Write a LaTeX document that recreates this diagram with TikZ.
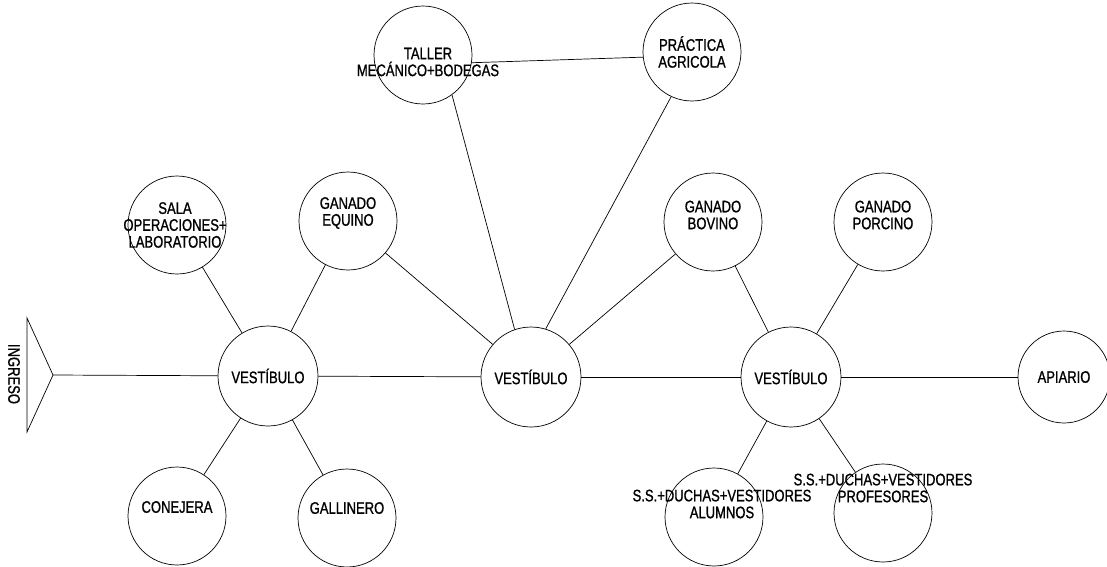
\documentclass[tikz,border=0pt]{standalone}
\usepackage{fontspec}
\newfontfamily\cadfont{Liberation Sans}[FakeStretch=0.78,FakeBold=1]
\usetikzlibrary{positioning}

\begin{document}
\begin{tikzpicture}[x=0.02cm,y=-0.02cm,
  every node/.style={font=\cadfont\fontsize{9.5}{9.6}\selectfont},
  espacio/.style={circle,draw,thin,minimum size=1.96cm,inner sep=0pt},
  vestibulo/.style={espacio,minimum size=2cm},
  rotulo/.style={align=center,inner sep=0pt}]
  \useasboundingbox (0,0) rectangle (1107,566);
  % ingreso
  \coordinate (ingA) at (27,318);
  \coordinate (ingB) at (27,432);
  \coordinate (ingreso) at (53,375);
  \draw[thin] (ingA) -- (ingreso) -- (ingB) -- cycle;
  \node[rotulo,rotate=-90] (tIngreso) at (14,374) {INGRESO};
  % vestibulos
  \node[vestibulo] (vestIzq) at (268,376) {};
  \node[vestibulo] (vestCen) at (531,377) {};
  \node[vestibulo] (vestDer) at (791,377) {};
  \node[espacio,minimum size=1.84cm] (apiario) at (1064,377) {};
  % espacios
  \node[espacio] (sala) at (177,225) {};
  \node[espacio] (equino) at (348,221) {};
  \node[espacio] (taller) at (423,55) {};
  \node[espacio] (practica) at (692,52) {};
  \node[espacio] (bovino) at (713,222) {};
  \node[espacio] (porcino) at (883,222) {};
  \node[espacio] (conejera) at (177,516) {};
  \node[espacio] (gallinero) at (347,518) {};
  \node[espacio] (alumnos) at (714,517) {};
  \node[espacio] (profesores) at (883,513) {};
  % rotulos
  \node[rotulo] (tVestIzq) at (vestIzq) {VESTÍBULO};
  \node[rotulo] (tVestCen) at (vestCen) {VESTÍBULO};
  \node[rotulo] (tVestDer) at (vestDer) {VESTÍBULO};
  \node[rotulo] (tApiario) at (apiario) {APIARIO};
  \node[rotulo,xshift=-0.04cm] (tSala) at (sala) {SALA\\OPERACIONES+\\LABORATORIO};
  \node[rotulo,yshift=0.16cm] (tEquino) at (equino) {GANADO\\EQUINO};
  \node[rotulo,xshift=0.1cm,yshift=-0.14cm] (tTaller) at (taller) {TALLER\\MECÁNICO+BODEGAS};
  \node[rotulo] (tPractica) at (practica) {PRÁCTICA\\AGRICOLA};
  \node[rotulo,yshift=0.14cm] (tBovino) at (bovino) {GANADO\\BOVINO};
  \node[rotulo,yshift=0.14cm] (tPorcino) at (porcino) {GANADO\\PORCINO};
  \node[rotulo,yshift=0.18cm] (tConejera) at (conejera) {CONEJERA};
  \node[rotulo,yshift=0.2cm] (tGallinero) at (gallinero) {GALLINERO};
  \node[rotulo,xshift=0.16cm,yshift=0.26cm] (tAlumnos) at (alumnos) {S.S.+DUCHAS+VESTIDORES\\ALUMNOS};
  \node[rotulo,yshift=0.5cm] (tProfesores) at (profesores) {S.S.+DUCHAS+VESTIDORES\\PROFESORES};
  % circulaciones
  \draw[thin] (vestIzq) -- (ingreso);
  \draw[thin] (vestIzq) -- (vestCen);
  \draw[thin] (vestCen) -- (vestDer);
  \draw[thin] (vestDer) -- (apiario);
  \draw[thin] (vestIzq) -- (sala);
  \draw[thin] (vestIzq) -- (equino);
  \draw[thin] (vestIzq) -- (conejera);
  \draw[thin] (vestIzq) -- (gallinero);
  \draw[thin] (vestCen) -- (equino);
  \draw[thin] (vestCen.109) -- (taller.-54);
  \draw[thin] (vestCen.73) -- (practica.-115);
  \draw[thin] (vestCen) -- (bovino);
  \draw[thin] (taller.-9) -- (practica.186);
  \draw[thin] (vestDer) -- (bovino);
  \draw[thin] (vestDer) -- (porcino);
  \draw[thin] (vestDer) -- (alumnos);
  \draw[thin] (vestDer) -- (profesores);
\end{tikzpicture}
\end{document}
